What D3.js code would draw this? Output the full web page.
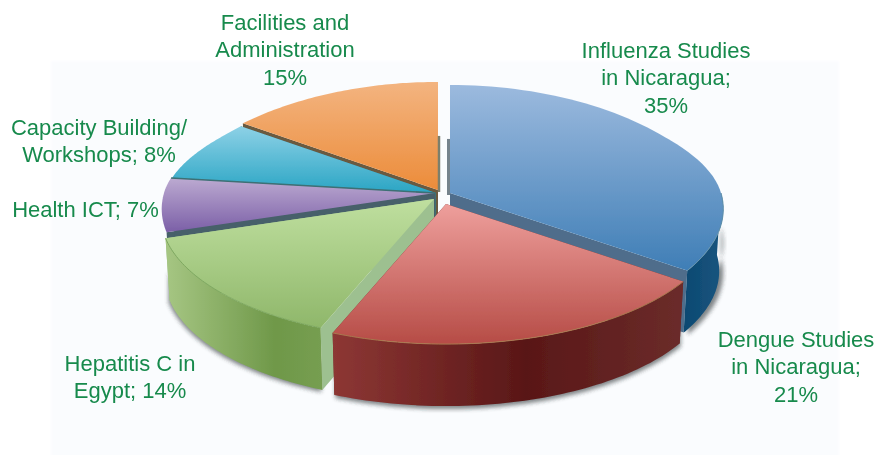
<!DOCTYPE html>
<html><head><meta charset="utf-8">
<script src="https://cdn.jsdelivr.net/npm/d3@7"></script>
<style>html,body{margin:0;padding:0;background:#fff}svg{display:block}text{font-family:"Liberation Sans",Arial,sans-serif}</style>
</head><body><script>
const categories = ["Influenza Studies in Nicaragua","Dengue Studies in Nicaragua","Hepatitis C in Egypt","Health ICT","Capacity Building/ Workshops","Facilities and Administration"];
const values = [35,21,14,7,8,15];
const labelLines = [["Influenza Studies","in Nicaragua;","35%"],["Dengue Studies","in Nicaragua;","21%"],["Hepatitis C in","Egypt; 14%"],["Health ICT; 7%"],["Capacity Building/","Workshops; 8%"],["Facilities and","Administration","15%"]];
const topColors = [["#9cbade","#3f7eb6"],["#ee9f9c","#b64c46"],["#bfdf9f","#8fb76a"],["#bcaad1","#7b5fa7"],["#8dd1e6","#2aa5c4"],["#f3b480","#ec8c3a"]];
const sideStops = [[["0","#0d4971"],["1","#17557f"]],[["0","#8d3734"],["0.55","#591717"],["1","#6b2c2a"]],[["0","#a6c683"],["0.7","#6f9849"],["1","#769e51"]],null,null,null];
const faceColors = ["#4f6d8b","#6d2a28","#9dc090","#46606a","#3d6f74","#6a5a40"];

const W=877,H=455,R=271,k=122,pFront=.129,pBack=.21,depth=62,bottomScale=.985;
const apex=[[450,193],[446,204],[434,199],[435,193],[436,193],[438,190]];
const paintOrder=[5,0,4,3,2,1];
const labelPos=[[666,58],[796,347],[130,371],[85.5,217],[99,135],[285,30]];

const svg=d3.select("body").append("svg").attr("width",W).attr("height",H);
const defs=svg.append("defs");
defs.append("filter").attr("id","panel").attr("x","-5%").attr("y","-5%").attr("width","110%").attr("height","110%").append("feGaussianBlur").attr("stdDeviation",1);
defs.append("filter").attr("id","shadow").attr("x","-10%").attr("y","-10%").attr("width","120%").attr("height","120%").append("feGaussianBlur").attr("stdDeviation",2);
defs.append("filter").attr("id","soft").attr("x","-5%").attr("y","-5%").attr("width","110%").attr("height","110%").append("feGaussianBlur").attr("stdDeviation",.45);

svg.append("rect").attr("x",51).attr("y",61).attr("width",788).attr("height",400).attr("fill","#fafcfe").attr("filter","url(#panel)");

const pie=d3.pie().sort(null).value(d=>d);
const arcs=pie(values);
const line=d3.line();

function proj(i,a,r,bottom){
  const x=r*Math.sin(a),y=-r*Math.cos(a);
  const px=pFront+(pBack-pFront)*Math.min(1,Math.max(0,-y/.5));
  const sx=1/(1-px*y),sy=1/(1-pFront*y);
  const f=bottom?bottomScale:1;
  return [apex[i][0]+R*x*sx*f, apex[i][1]+k*y*sy+(bottom?depth:0)];
}
function arcPts(i,a0,a1,bottom){
  return d3.range(0,61).map(n=>proj(i,a0+(a1-a0)*n/60,1,bottom));
}
const g=svg.append("g").attr("filter","url(#soft)");

function grad(id,x1,y1,x2,y2,stops){
  const lg=defs.append("linearGradient").attr("id",id).attr("gradientUnits","userSpaceOnUse")
    .attr("x1",x1).attr("y1",y1).attr("x2",x2).attr("y2",y2);
  stops.forEach(s=>lg.append("stop").attr("offset",s[0]).attr("stop-color",s[1]));
}

const sideRange=i=>{
  const a=arcs[i];
  if(i===0) return [Math.PI*0.5,a.endAngle];
  return [a.startAngle,a.endAngle];
};
[0,1,2].forEach(i=>{
  const [a0,a1]=sideRange(i);
  const pts=arcPts(i,a0,a1,true);
  const top=pts.map(p=>[p[0],p[1]-30]);
  g.append("path").attr("d",line(top.concat(pts.slice().reverse()))+"Z").attr("fill","#2f3437").attr("opacity",.6)
    .attr("filter","url(#shadow)").attr("transform",i===0?"translate(4,2)":i===1?"translate(1,3)":"translate(-1,2)");
});

paintOrder.forEach(i=>{
  const a=arcs[i];
  [a.startAngle,a.endAngle].forEach(t=>{
    const pts=[apex[i],proj(i,t,1,false),proj(i,t,1,true),[apex[i][0],apex[i][1]+depth]];
    g.append("path").attr("d",line(pts)+"Z").attr("fill",faceColors[i]);
  });
  if(sideStops[i]){
    const [a0,a1]=sideRange(i);
    const pts=arcPts(i,a0,a1,false).concat(arcPts(i,a0,a1,true).reverse());
    const ex=d3.extent(pts,p=>p[0]);
    grad("side"+i,ex[0],0,ex[1],0,sideStops[i]);
    g.append("path").attr("d",line(pts)+"Z").attr("fill","url(#side"+i+")");
  }
  const top=[apex[i]].concat(arcPts(i,a.startAngle,a.endAngle,false));
  const ey=d3.extent(top,p=>p[1]);
  grad("top"+i,0,ey[0],0,ey[1],[["0",topColors[i][0]],["1",topColors[i][1]]]);
  g.append("path").attr("d",line(top)+"Z").attr("fill","url(#top"+i+")");
});
// boundary between the cyan and purple slices
g.append("path").attr("d",line([apex[3],proj(3,arcs[3].endAngle,1,false)])).attr("stroke",faceColors[4]).attr("stroke-width",1.6).attr("fill","none");
// rim highlight on the front edges
[[1,"#a9794f"],[2,"#7ea860"],[0,"#5f8fa8"]].forEach(([i,c])=>{
  const [a0,a1]=sideRange(i);
  g.append("path").attr("d",line(arcPts(i,a0,a1,false))).attr("fill","none").attr("stroke",c).attr("stroke-width",1);
});
// narrow back walls along the central gap
[[0,arcs[0].startAngle,-1.5,3,"#75838c"],[5,arcs[5].endAngle,1,2.5,"#7c7f6c"]].forEach(([i,t,dx,w,c])=>{
  const q=proj(i,t,.47,false);
  g.append("path").attr("d",line([[q[0]+dx,q[1]],[apex[i][0]+dx,apex[i][1]+2]])).attr("stroke",c).attr("stroke-width",w).attr("fill","none");
});

const lab=svg.append("g").attr("fill","#178a4c").attr("font-size",22).attr("text-anchor","middle");
labelLines.forEach((ls,i)=>{
  ls.forEach((t,j)=>lab.append("text").attr("x",labelPos[i][0]).attr("y",labelPos[i][1]+j*27.4).text(t));
});
</script></body></html>
